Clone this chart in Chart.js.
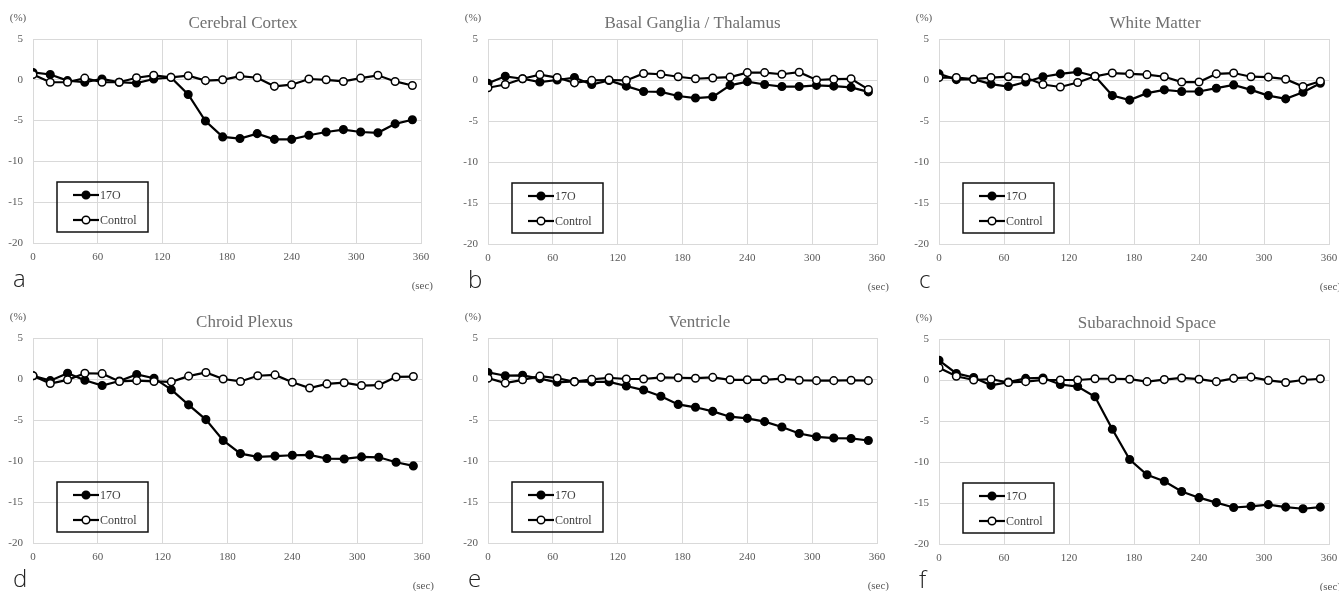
<!DOCTYPE html>
<html>
<head>
<meta charset="utf-8">
<script src="https://cdn.jsdelivr.net/npm/chart.js@4.4.1/dist/chart.umd.min.js"></script>
<style>
  html, body { margin: 0; padding: 0; background: #fff; }
  #wrap { position: relative; width: 1339px; height: 591px; overflow: hidden; }
  .cell { position: absolute; }
</style>
</head>
<body>
<div id="wrap"></div>
<script>
// time points (sec)
const seconds = [0, 16, 32, 48, 64, 80, 96, 112, 128, 144, 160, 176, 192, 208, 224, 240, 256, 272, 288, 304, 320, 336, 352];
const xTicks = [0, 60, 120, 180, 240, 300, 360];
const yTicks = [5, 0, -5, -10, -15, -20];
const seriesNames = ["17O", "Control"];

// signal change (%)
const cortex17O = [0.9, 0.65, -0.1, -0.3, 0.1, -0.3, -0.4, 0.1, 0.3, -1.8, -5.05, -7.0, -7.2, -6.6, -7.3, -7.3, -6.8, -6.4, -6.1, -6.4, -6.5, -5.4, -4.9];
const cortexControl = [0.65, -0.3, -0.3, 0.2, -0.3, -0.3, 0.25, 0.55, 0.3, 0.5, -0.1, 0, 0.45, 0.25, -0.8, -0.6, 0.1, 0, -0.2, 0.2, 0.55, -0.2, -0.7];

const basal17O = [-0.4, 0.45, 0.15, -0.25, 0, 0.3, -0.55, -0.05, -0.75, -1.4, -1.45, -1.95, -2.2, -2.05, -0.65, -0.2, -0.55, -0.8, -0.8, -0.65, -0.75, -0.9, -1.45];
const basalControl = [-0.95, -0.55, 0.15, 0.65, 0.3, -0.35, -0.05, 0, -0.05, 0.8, 0.7, 0.4, 0.15, 0.25, 0.35, 0.9, 0.9, 0.7, 0.95, 0, 0.1, 0.15, -1.15];

const white17O = [0.75, 0.05, 0.1, -0.5, -0.8, -0.25, 0.4, 0.75, 1.0, 0.45, -1.9, -2.45, -1.6, -1.2, -1.4, -1.4, -1.0, -0.6, -1.2, -1.9, -2.3, -1.5, -0.4];
const whiteControl = [0.3, 0.3, 0.1, 0.3, 0.4, 0.3, -0.55, -0.85, -0.3, 0.45, 0.85, 0.75, 0.65, 0.4, -0.25, -0.25, 0.75, 0.85, 0.4, 0.35, 0.1, -0.8, -0.15];

const plexus17O = [0.4, -0.2, 0.7, -0.15, -0.8, -0.25, 0.55, 0.1, -1.3, -3.15, -4.95, -7.5, -9.1, -9.5, -9.4, -9.3, -9.25, -9.7, -9.75, -9.5, -9.55, -10.15, -10.6];
const plexusControl = [0.4, -0.55, -0.1, 0.7, 0.65, -0.3, -0.2, -0.3, -0.35, 0.35, 0.8, 0, -0.3, 0.4, 0.5, -0.4, -1.1, -0.6, -0.45, -0.8, -0.75, 0.25, 0.3];

const ventricle17O = [0.8, 0.4, 0.45, 0.05, -0.4, -0.3, -0.35, -0.35, -0.85, -1.35, -2.1, -3.1, -3.45, -3.95, -4.6, -4.8, -5.2, -5.85, -6.65, -7.05, -7.2, -7.25, -7.5];
const ventricleControl = [0.1, -0.5, -0.1, 0.35, 0.1, -0.35, -0.05, 0.15, 0, 0, 0.2, 0.15, 0.1, 0.2, -0.1, -0.1, -0.1, 0.05, -0.15, -0.2, -0.2, -0.15, -0.2];

const subarach17O = [2.4, 0.8, 0.3, -0.65, -0.25, 0.2, 0.25, -0.55, -0.8, -2.05, -6.0, -9.7, -11.55, -12.35, -13.6, -14.35, -14.95, -15.55, -15.4, -15.2, -15.5, -15.7, -15.5];
const subarachControl = [1.5, 0.45, 0, 0.1, -0.3, -0.2, 0, 0, 0, 0.15, 0.15, 0.1, -0.2, 0.05, 0.25, 0.1, -0.2, 0.2, 0.35, -0.05, -0.3, 0, 0.15];

const SERIF = "'Liberation Serif', 'Times New Roman', serif";
const GRID = "#d9d9d9";

// layout of the six panels (canvas box + plot size)
const panels = [
  { title: "Cerebral Cortex", letter: "a", o: cortex17O, c: cortexControl, left: 0, top: 0, w: 446, h: 295, plotW: 388, plotH: 204, titleDx: 16 },
  { title: "Basal Ganglia / Thalamus", letter: "b", o: basal17O, c: basalControl, left: 455, top: 0, w: 446, h: 295, plotW: 389, plotH: 205, titleDx: 10 },
  { title: "White Matter", letter: "c", o: white17O, c: whiteControl, left: 906, top: 0, w: 433, h: 295, plotW: 390, plotH: 205, titleDx: 21 },
  { title: "Chroid Plexus", letter: "d", o: plexus17O, c: plexusControl, left: 0, top: 299, w: 446, h: 292, plotW: 389, plotH: 205, titleDx: 17 },
  { title: "Ventricle", letter: "e", o: ventricle17O, c: ventricleControl, left: 455, top: 299, w: 446, h: 292, plotW: 389, plotH: 205, titleDx: 17 },
  { title: "Subarachnoid Space", letter: "f", o: subarach17O, c: subarachControl, left: 906, top: 300, w: 433, h: 291, plotW: 390, plotH: 205, titleDx: 13 }
];

const Y_AXIS_W = 33;
const X_AXIS_H = 20;
const PLOT_TOP = 39;

function toPoints(values) {
  return seconds.map((s, i) => ({ x: s, y: values[i] }));
}

// titles, unit labels, panel letter and boxed legend
const decorations = {
  id: "decorations",
  afterDraw(chart, args, opts) {
    const ctx = chart.ctx;
    const a = chart.chartArea;
    ctx.save();

    ctx.fillStyle = "#707070";
    ctx.font = "17px " + SERIF;
    ctx.textAlign = "center";
    ctx.textBaseline = "middle";
    ctx.fillText(opts.title, (a.left + a.right) / 2 + opts.titleDx, a.top - 15);

    ctx.fillStyle = "#595959";
    ctx.font = "11px " + SERIF;
    ctx.fillText("(%)", a.left - 15, a.top - 21);
    ctx.textAlign = "right";
    ctx.fillText("(sec)", a.right + 12, a.bottom + 43);

    ctx.fillStyle = "#222";
    ctx.font = "300 24px 'Open Sans', 'Noto Sans', sans-serif";
    ctx.textAlign = "left";
    ctx.fillText(opts.letter, a.left - 20, a.bottom + 37);

    // legend box
    const bx = a.left + 24, by = a.bottom - 61, bw = 91, bh = 50;
    ctx.strokeStyle = "#111";
    ctx.lineWidth = 1.5;
    ctx.strokeRect(bx, by, bw, bh);
    ctx.font = "12px " + SERIF;
    seriesNames.forEach((name, i) => {
      const ly = by + 13 + i * 25;
      ctx.strokeStyle = "#000";
      ctx.lineWidth = 2.2;
      ctx.beginPath();
      ctx.moveTo(bx + 16, ly);
      ctx.lineTo(bx + 42, ly);
      ctx.stroke();
      ctx.beginPath();
      ctx.arc(bx + 29, ly, 3.8, 0, Math.PI * 2);
      ctx.fillStyle = i === 0 ? "#000" : "#fff";
      ctx.fill();
      ctx.lineWidth = 1.5;
      ctx.stroke();
      ctx.fillStyle = "#404040";
      ctx.fillText(name, bx + 43, ly + 1);
    });

    ctx.restore();
  }
};

const wrap = document.getElementById("wrap");

panels.forEach((p) => {
  const cell = document.createElement("div");
  cell.className = "cell";
  cell.style.left = p.left + "px";
  cell.style.top = p.top + "px";
  cell.style.width = p.w + "px";
  cell.style.height = p.h + "px";
  const canvas = document.createElement("canvas");
  cell.appendChild(canvas);
  wrap.appendChild(cell);

  new Chart(canvas, {
    type: "line",
    data: {
      datasets: [
        {
          label: seriesNames[0],
          data: toPoints(p.o),
          borderColor: "#000",
          borderWidth: 2.2,
          pointRadius: 3.8,
          pointBackgroundColor: "#000",
          pointBorderColor: "#000",
          pointBorderWidth: 1.5,
          order: 1
        },
        {
          label: seriesNames[1],
          data: toPoints(p.c),
          borderColor: "#000",
          borderWidth: 2.2,
          pointRadius: 3.8,
          pointBackgroundColor: "#fff",
          pointBorderColor: "#000",
          pointBorderWidth: 1.5,
          order: 0
        }
      ]
    },
    options: {
      responsive: true,
      maintainAspectRatio: false,
      animation: false,
      layout: {
        padding: {
          left: 0,
          top: PLOT_TOP,
          right: p.w - Y_AXIS_W - p.plotW,
          bottom: p.h - PLOT_TOP - p.plotH - X_AXIS_H
        }
      },
      plugins: {
        legend: { display: false },
        tooltip: { enabled: false },
        decorations: { title: p.title, letter: p.letter, titleDx: p.titleDx }
      },
      scales: {
        x: {
          type: "linear",
          min: 0,
          max: 360,
          afterBuildTicks: (scale) => { scale.ticks = xTicks.map((v) => ({ value: v })); },
          afterFit: (scale) => {
            scale.height = X_AXIS_H;
            scale.paddingLeft = 0;
            scale.paddingRight = 0;
          },
          grid: { color: GRID, lineWidth: 1, drawTicks: false },
          border: { color: GRID },
          ticks: { padding: 8, color: "#595959", font: { family: SERIF, size: 11 } }
        },
        y: {
          min: -20,
          max: 5,
          afterBuildTicks: (scale) => { scale.ticks = yTicks.map((v) => ({ value: v })); },
          afterFit: (scale) => {
            scale.width = Y_AXIS_W;
            scale.paddingTop = 0;
            scale.paddingBottom = 0;
          },
          grid: { color: GRID, lineWidth: 1, drawTicks: false },
          border: { color: GRID },
          ticks: { padding: 10, color: "#595959", font: { family: SERIF, size: 11 } }
        }
      }
    },
    plugins: [decorations]
  });
});
</script>
</body>
</html>
